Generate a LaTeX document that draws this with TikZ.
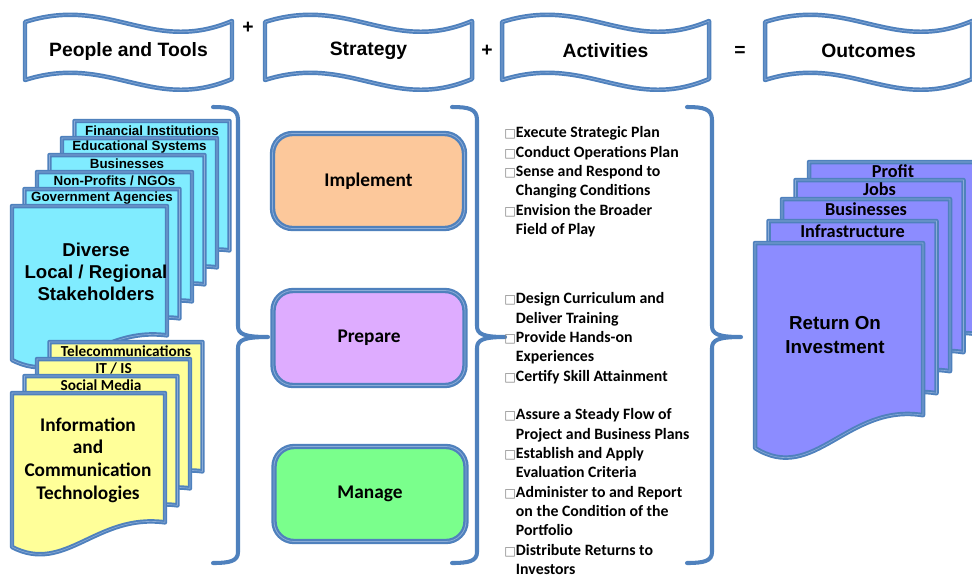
\documentclass[tikz,border=0pt]{standalone}
\usepackage{fontspec}
\setmainfont{Liberation Sans}
\newfontfamily\calibri{Carlito}
\newfontfamily\symfont{DejaVu Sans}
\usepackage{xcolor}
\usepackage{tikz}

\definecolor{bluebd}{RGB}{79,129,189}
\definecolor{bluelt}{RGB}{140,172,215}
\definecolor{stakecyan}{RGB}{128,236,255}
\definecolor{techyellow}{RGB}{255,255,153}
\definecolor{roipurple}{RGB}{140,140,255}
\definecolor{implpeach}{RGB}{252,200,155}
\definecolor{preplilac}{RGB}{222,172,255}
\definecolor{mgmtgreen}{RGB}{122,255,140}

\tikzset{
  pageline/.style={draw=bluebd,double=bluelt,double distance=0.35pt,line width=1.1pt,line join=round},
  braceline/.style={draw=bluebd,line width=2.3pt,line cap=round,line join=round},
  headtext/.style={font=\bfseries\fontsize{11}{13}\selectfont},
  stakelabel/.style={font=\bfseries\fontsize{7.6}{9}\selectfont,inner sep=0pt},
  techlabel/.style={font=\calibri\bfseries\fontsize{8.7}{10}\selectfont,inner sep=0pt},
  roilabel/.style={font=\calibri\bfseries\fontsize{10.4}{12}\selectfont,inner sep=0pt},
  stagebox/.style={draw=bluebd,double=bluelt,double distance=0.45pt,line width=1.3pt,
    rounded corners=0.4cm,minimum width=3.84cm,minimum height=1.9cm,
    font=\calibri\bfseries\fontsize{11}{13}\selectfont},
  tasklist/.style={anchor=north west,align=left,inner sep=0pt,
    font=\calibri\bfseries\fontsize{9}{11}\selectfont}
}

% page with a wavy bottom: x, y, width, height, fill
\newcommand{\docpage}[5]{%
  \draw[pageline,fill=#5] (#1,#2) -- (#1+#3,#2) -- (#1+#3,#2+0.84*#4)
    .. controls (#1+0.55*#3,#2+0.78*#4) and (#1+0.35*#3,#2+1.18*#4) .. (#1,#2+#4) -- cycle;}
% waving banner: x, y, width
\newcommand{\banner}[3]{%
  \draw[pageline,fill=white] (#1,#2) .. controls (#1+0.41*#3,#2-27) and (#1+0.61*#3,#2+33) .. (#1+#3,#2-1)
    -- (#1+#3,#2+57) .. controls (#1+0.61*#3,#2+91) and (#1+0.41*#3,#2+31) .. (#1,#2+58) -- cycle;}
% tall curly bracket: x of the stem, x of the tip
\newcommand{\bracket}[2]{%
  \draw[braceline] (#1-25,107) .. controls (#1-8,107) and (#1,109) .. (#1,120) -- (#1,326)
    .. controls (#1,334) and (#1+6,337) .. (#2,337) .. controls (#1+6,337) and (#1,340) .. (#1,348)
    -- (#1,552) .. controls (#1,561) and (#1-8,563) .. (#1-25,563);}
\newcommand{\chk}{{\symfont\fontsize{7}{7}\selectfont\textcolor{gray}{□}}}
\newcommand{\ind}{\hphantom{\chk}}

\begin{document}
\begin{tikzpicture}[x=0.02cm,y=-0.02cm]
\useasboundingbox (0,0) rectangle (972,576);
\clip (0,0) rectangle (972,576);
\fill[white] (0,0) rectangle (972,576);

% Header banners
\banner{25}{22}{207}
\node[headtext] (tools) at (128.5,51) {People and Tools};
\banner{265}{22}{207}
\node[headtext] (strategy) at (368.5,51) {Strategy};
\banner{502}{22}{207}
\node[headtext] (activities) at (605.5,51) {Activities};
\banner{765}{22}{207}
\node[headtext] (outcomes) at (868.5,51) {Outcomes};

% Plus and equals signs
\node[headtext] (plusa) at (248,28) {+};
\node[headtext] (plusb) at (487,51) {+};
\node[headtext] (equals) at (740,51) {=};

% Stakeholder pages, back to front
\docpage{74.5}{121}{155}{154}{stakecyan}
\node[stakelabel] (finance) at (152,131) {Financial Institutions};
\docpage{62}{138}{155}{154}{stakecyan}
\node[stakelabel] (education) at (139.5,147.5) {Educational Systems};
\docpage{49.5}{155}{155}{154}{stakecyan}
\node[stakelabel] (business) at (127,164) {Businesses};
\docpage{37}{172}{155}{154}{stakecyan}
\node[stakelabel] (nonprofit) at (114.5,181) {Non-Profits / NGOs};
\docpage{24.5}{189}{155}{154}{stakecyan}
\node[stakelabel] (govern) at (102,198) {Government Agencies};
\docpage{12}{206}{155}{154}{stakecyan}
\node[align=center,font=\bfseries\fontsize{10.6}{12.6}\selectfont] (diverse) at (96,272)
  {Diverse\\Local / Regional\\Stakeholders};

% Technology pages
\docpage{49.5}{342}{153}{154}{techyellow}
\node[techlabel] (telecom) at (126,351) {Telecommunications};
\docpage{37}{359}{153}{154}{techyellow}
\node[techlabel] (itis) at (113.5,368) {IT / IS};
\docpage{24.5}{376}{153}{154}{techyellow}
\node[techlabel] (social) at (101,385) {Social Media};
\docpage{12}{393}{153}{154}{techyellow}
\node[align=center,font=\calibri\bfseries\fontsize{11}{12.9}\selectfont] (ict) at (88,460)
  {Information\\and\\Communication\\Technologies};

% Brackets
\bracket{238}{268}
\bracket{477}{505}
\bracket{712}{741}

% Strategy stages
\node[stagebox,fill=implpeach] (implement) at (368.5,181) {Implement};
\node[stagebox,fill=preplilac] (prepare) at (369,338) {Prepare};
\node[stagebox,fill=mgmtgreen] (manage) at (370,494) {Manage};

% Activity lists
\node[tasklist] (execlist) at (504,126.5) {\chk Execute Strategic Plan\\
  \chk Conduct Operations Plan\\
  \chk Sense and Respond to\\
  \ind Changing Conditions\\
  \chk Envision the Broader\\
  \ind Field of Play};
\node[tasklist] (preplist) at (504,292.5) {\chk Design Curriculum and\\
  \ind Deliver Training\\
  \chk Provide Hands-on\\
  \ind Experiences\\
  \chk Certify Skill Attainment};
\node[tasklist] (mgmtlist) at (504,408.5) {\chk Assure a Steady Flow of\\
  \ind Project and Business Plans\\
  \chk Establish and Apply\\
  \ind Evaluation Criteria\\
  \chk Administer to and Report\\
  \ind on the Condition of the\\
  \ind Portfolio\\
  \chk Distribute Returns to\\
  \ind Investors};

% Outcome pages
\docpage{809}{162}{168}{205}{roipurple}
\node[roilabel] (profit) at (893,171) {Profit};
\docpage{795.5}{180}{168}{205}{roipurple}
\node[roilabel] (jobs) at (879.5,189) {Jobs};
\docpage{782}{199}{168}{205}{roipurple}
\node[roilabel] (newbiz) at (866,209) {Businesses};
\docpage{768.5}{221}{168}{205}{roipurple}
\node[roilabel] (infra) at (852.5,231) {Infrastructure};
\docpage{755}{243}{168}{205}{roipurple}
\node[align=center,font=\bfseries\fontsize{10.7}{13.6}\selectfont] (roi) at (835,335)
  {Return On\\Investment};
\end{tikzpicture}
\end{document}
